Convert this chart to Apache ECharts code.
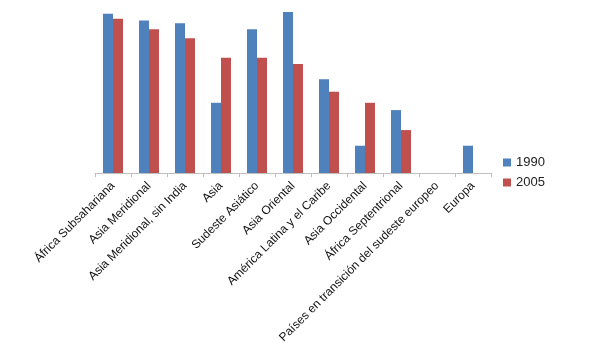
<!DOCTYPE html>
<html>
<head>
<meta charset="utf-8">
<script src="https://cdn.jsdelivr.net/npm/echarts@6/dist/echarts.min.js"></script>
<style>html,body{margin:0;padding:0;background:#fff}#c{width:600px;height:364px}</style>
</head>
<body>
<div id="c"></div>
<script>
const categories = ["África Subsahariana","Asia Meridional","Asia Meridional, sin India","Asia","Sudeste Asiático","Asia Oriental","América Latina y el Caribe","Asia Occidental","África Septentrional","Países en transición del sudeste europeo","Europa"];
const seriesNames = ["1990","2005"];
const values1990 = [59, 56.5, 55.5, 26, 53.2, 59.6, 34.7, 10.1, 23.3, null, 10.1];
const values2005 = [57.1, 53.2, 49.9, 42.7, 42.7, 40.4, 30.1, 26, 15.9, null, null];

const chart = echarts.init(document.getElementById('c'));
chart.setOption({
  animation: false,
  color: ['#4F81BD', '#C0504D'],
  grid: { left: 95, right: 109, top: 11, bottom: 191, containLabel: false },
  legend: {
    orient: 'vertical', left: 498, top: 151,
    itemWidth: 8, itemHeight: 8, itemGap: 7, icon: 'rect',
    textStyle: { fontFamily: 'Liberation Sans', fontSize: 13, color: '#222' },
    data: seriesNames
  },
  xAxis: {
    type: 'category', data: categories,
    axisLine: { lineStyle: { color: '#BFBFBF', width: 1 } },
    axisTick: { show: true, alignWithLabel: false, length: 4, lineStyle: { color: '#BFBFBF' } },
    axisLabel: { rotate: 45, interval: 0, margin: 11, color: '#111', fontFamily: 'Liberation Sans', fontSize: 12 }
  },
  yAxis: {
    type: 'value', min: 0, max: 60, show: false,
    splitLine: { show: false }
  },
  series: [
    { name: seriesNames[0], type: 'bar', data: values1990, barWidth: 10, barGap: '0%' },
    { name: seriesNames[1], type: 'bar', data: values2005, barWidth: 10, barGap: '0%' }
  ]
});
</script>
</body>
</html>
